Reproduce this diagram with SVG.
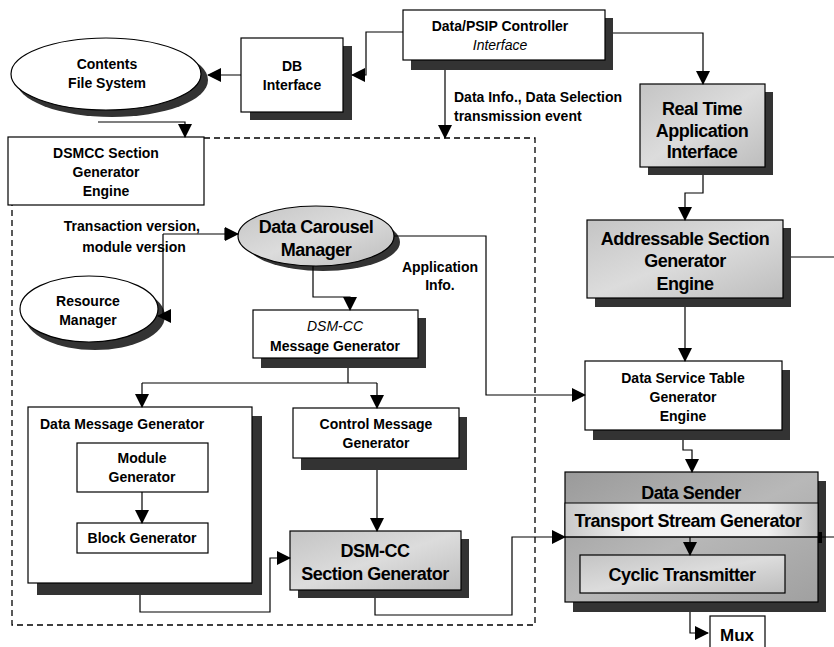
<svg xmlns="http://www.w3.org/2000/svg" width="834" height="647" viewBox="0 0 834 647">
<defs>
<style>
.box{fill:#fff;stroke:#000;stroke-width:1.2}
.gbox{stroke:#000;stroke-width:1.2}
.sh{fill:#333}
.ln{fill:none;stroke:#000;stroke-width:1.2}
.dash{fill:none;stroke:#000;stroke-width:1.3;stroke-dasharray:6 4}
text{font-family:"Liberation Sans",Arial,sans-serif;font-weight:bold;font-size:14px;fill:#000;text-anchor:middle}
.big{font-size:18px;letter-spacing:-0.5px}
.it{font-style:italic;font-weight:normal}
.lt{text-anchor:start}
.rt{text-anchor:end}
</style>
<marker id="ah" markerWidth="14" markerHeight="14" refX="13" refY="7" orient="auto" markerUnits="userSpaceOnUse">
<path d="M0,0 L14,7 L0,14 Z" fill="#000"/>
</marker>
<linearGradient id="g1" x1="0" y1="0" x2="1" y2="1">
<stop offset="0" stop-color="#c4c4c4"/>
<stop offset="0.5" stop-color="#dcdcdc"/>
<stop offset="1" stop-color="#bdbdbd"/>
</linearGradient>
<linearGradient id="g2" x1="0" y1="0" x2="1" y2="1">
<stop offset="0" stop-color="#9a9a9a"/>
<stop offset="0.5" stop-color="#b8b8b8"/>
<stop offset="1" stop-color="#a0a0a0"/>
</linearGradient>
<linearGradient id="g3" x1="0" y1="0" x2="1" y2="0">
<stop offset="0" stop-color="#c8c8c8"/>
<stop offset="0.3" stop-color="#f4f4f4"/>
<stop offset="0.8" stop-color="#f0f0f0"/>
<stop offset="1" stop-color="#bdbdbd"/>
</linearGradient>
</defs>

<g id="frame">
<path class="dash" d="M204,138 H535 V625 H12 V205"/>
</g>

<g id="contents-fs">
<ellipse cx="112" cy="80" rx="96" ry="37" class="sh"/>
<ellipse cx="106" cy="74" rx="95" ry="36" class="box"/>
<text x="107" y="69">Contents</text>
<text x="107" y="88">File System</text>
</g>

<g id="db-interface">
<rect x="250" y="46" width="102" height="74" class="sh"/>
<rect x="241" y="38" width="102" height="74" class="box"/>
<text x="292" y="71">DB</text>
<text x="292" y="90">Interface</text>
</g>

<g id="psip">
<rect x="411" y="18" width="202" height="52" class="sh"/>
<rect x="403" y="10" width="202" height="50" class="box"/>
<text x="500" y="31">Data/PSIP Controller</text>
<text x="500" y="50" class="it">Interface</text>
</g>

<text x="454" y="102" class="lt">Data Info., Data Selection</text>
<text x="454" y="121" class="lt">transmission event</text>

<g id="dsmcc-engine">
<rect x="8" y="137" width="196" height="68" class="box"/>
<text x="106" y="158">DSMCC Section</text>
<text x="106" y="177">Generator</text>
<text x="106" y="196">Engine</text>
</g>

<g id="real-time">
<rect x="648" y="92" width="125" height="83" class="sh"/>
<rect x="640" y="84" width="125" height="83" fill="url(#g1)" class="gbox"/>
<text x="702" y="115" class="big">Real Time</text>
<text x="702" y="137" class="big">Application</text>
<text x="702" y="158" class="big">Interface</text>
</g>

<g id="addressable">
<rect x="595" y="228" width="196" height="79" class="sh"/>
<rect x="587" y="220" width="196" height="78" fill="url(#g1)" class="gbox"/>
<text x="685" y="245" class="big">Addressable Section</text>
<text x="685" y="267" class="big">Generator</text>
<text x="685" y="290" class="big">Engine</text>
</g>

<g id="dst">
<rect x="593" y="370" width="197" height="70" class="sh"/>
<rect x="585" y="361" width="197" height="69" class="box"/>
<text x="683" y="383">Data Service Table</text>
<text x="683" y="402">Generator</text>
<text x="683" y="421">Engine</text>
</g>

<g id="data-sender">
<rect x="573" y="481" width="253" height="131" class="sh"/>
<rect x="565" y="472" width="253" height="130" fill="url(#g2)" class="gbox"/>
<text x="691" y="499" class="big">Data Sender</text>
<rect x="565" y="503" width="253" height="34" fill="url(#g3)" stroke="#000" stroke-width="1"/>
<text x="688" y="527" class="big">Transport Stream Generator</text>
<rect x="580" y="555" width="205" height="38" fill="url(#g1)" class="gbox"/>
<text x="682" y="581" class="big">Cyclic Transmitter</text>
</g>

<g id="mux">
<rect x="710" y="616" width="55" height="40" class="box"/>
<text x="737" y="641" style="font-size:17px">Mux</text>
</g>

<g id="dcm">
<ellipse cx="323" cy="242" rx="77" ry="29" class="sh"/>
<ellipse cx="316" cy="236" rx="78" ry="30" fill="url(#g1)" class="gbox"/>
<text x="316" y="233" class="big">Data Carousel</text>
<text x="316" y="256" class="big">Manager</text>
</g>

<text x="200" y="231" class="rt">Transaction version,</text>
<text x="134" y="252">module version</text>

<text x="440" y="272">Application</text>
<text x="440" y="290">Info.</text>

<g id="resource-manager">
<ellipse cx="95" cy="316" rx="70" ry="34" class="sh"/>
<ellipse cx="89" cy="309" rx="69" ry="33" class="box"/>
<text x="88" y="306">Resource</text>
<text x="88" y="325">Manager</text>
</g>

<g id="dsmcc-msg">
<rect x="261" y="318" width="165" height="50" class="sh"/>
<rect x="253" y="310" width="165" height="48" class="box"/>
<text x="335" y="331" class="it">DSM-CC</text>
<text x="335" y="351">Message Generator</text>
</g>

<g id="data-msg">
<rect x="37" y="416" width="225" height="179" class="sh"/>
<rect x="28" y="407" width="224" height="176" class="box"/>
<text x="40" y="429" class="lt">Data Message Generator</text>
</g>

<g id="module-gen">
<rect x="77" y="443" width="131" height="49" class="box"/>
<text x="142" y="463">Module</text>
<text x="142" y="482">Generator</text>
</g>

<g id="block-gen">
<rect x="77" y="523" width="131" height="30" class="box"/>
<text x="142" y="543">Block Generator</text>
</g>

<g id="control-msg">
<rect x="301" y="417" width="166" height="53" class="sh"/>
<rect x="293" y="408" width="166" height="50" class="box"/>
<text x="376" y="429">Control Message</text>
<text x="376" y="448">Generator</text>
</g>

<g id="dsmcc-section">
<rect x="298" y="539" width="171" height="59" class="sh"/>
<rect x="290" y="531" width="171" height="59" fill="url(#g1)" class="gbox"/>
<text x="375" y="557" class="big">DSM-CC</text>
<text x="375" y="580" class="big">Section Generator</text>
</g>

<g id="connectors">
<path class="ln" d="M241,75 H208" marker-end="url(#ah)"/>
<path class="ln" d="M403,32 H366 V75 H352" marker-end="url(#ah)"/>
<path class="ln" d="M98,122 H185 V137" marker-end="url(#ah)"/>
<path class="ln" d="M445,70 V138" marker-end="url(#ah)"/>
<path class="ln" d="M613,33 H703 V84" marker-end="url(#ah)"/>
<path class="ln" d="M703,175 V193 H685 V220" marker-end="url(#ah)"/>
<path class="ln" d="M791,257 H834"/>
<path class="ln" d="M685,307 V361" marker-end="url(#ah)"/>
<path class="ln" d="M394,236 H486 V395 H585" marker-end="url(#ah)"/>
<path class="ln" d="M683,440 V450 H692 V472" marker-end="url(#ah)"/>
<path class="ln" d="M234,234 H238" marker-end="url(#ah)"/>
<path class="ln" d="M163,234 H234"/>
<path class="ln" d="M225,228 V240"/>
<path class="ln" d="M163,234 V316 H158" marker-end="url(#ah)"/>
<path class="ln" d="M313,266 V297 H350 V310" marker-end="url(#ah)"/>
<path class="ln" d="M348,368 V383 M142,383 H377"/>
<path class="ln" d="M142,383 V407" marker-end="url(#ah)"/>
<path class="ln" d="M377,383 V408" marker-end="url(#ah)"/>
<path class="ln" d="M142,492 V523" marker-end="url(#ah)"/>
<path class="ln" d="M140,595 V612 H270 V558 H290" marker-end="url(#ah)"/>
<path class="ln" d="M377,470 V531" marker-end="url(#ah)"/>
<path class="ln" d="M375,598 V615 H512 V537 H565" marker-end="url(#ah)"/>
<path class="ln" d="M565,537 H834"/>
<path d="M820,532 V543" stroke="#000" stroke-width="4"/>
<path class="ln" d="M690,537 V555" marker-end="url(#ah)"/>
<path class="ln" d="M690,612 V633 H708" marker-end="url(#ah)"/>
</g>
</svg>
